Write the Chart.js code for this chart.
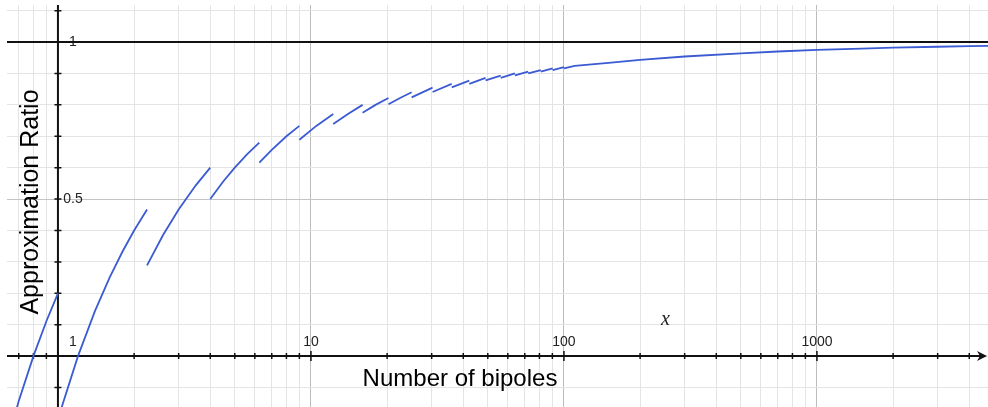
<!DOCTYPE html>
<html>
<head>
<meta charset="utf-8">
<script src="https://cdn.jsdelivr.net/npm/chart.js@4.4.1/dist/chart.umd.min.js"></script>
<style>
  html, body { margin: 0; padding: 0; background: #ffffff; }
  #wrap { width: 988px; height: 407px; }
</style>
</head>
<body>
<div id="wrap"><canvas id="c" width="988" height="407"></canvas></div>
<script>
// ---- data ----
// sawtooth curve: x = number of bipoles, y = approximation ratio (null = break)
const bipoles = [
  0.6, 0.7, 0.8, 0.9, 1, 1,
  1, 1.2, 1.4, 1.6, 1.8, 2, 2.25, 2.25,
  2.25, 2.6, 3, 3.5, 4, 4,
  4, 4.5, 5, 5.6, 6.25, 6.25,
  6.25, 7, 8, 9, 9,
  9, 10.5, 12.25, 12.25,
  12.25, 14, 16, 16,
  16, 18, 20.25, 20.25,
  20.25, 22.5, 25, 25,
  25, 30.25, 30.25,
  30.25, 36, 36,
  36, 42.25, 42.25,
  42.25, 49, 49,
  49, 56.25, 56.25,
  56.25, 64, 64,
  64, 72.25, 72.25,
  72.25, 81, 81,
  81, 90.25, 90.25,
  90.25, 100, 100,
  100, 110.25, 150, 200, 300, 500, 700, 1000, 1500, 2000, 3000, 4000, 4800
];
const ratio = [
  -0.333, -0.143, 0, 0.111, 0.2, null,
  -0.2, 0, 0.143, 0.25, 0.333, 0.4, 0.467, null,
  0.289, 0.385, 0.467, 0.543, 0.6, null,
  0.5, 0.556, 0.6, 0.643, 0.68, null,
  0.616, 0.657, 0.7, 0.733, null,
  0.689, 0.733, 0.771, null,
  0.739, 0.771, 0.8, null,
  0.775, 0.8, 0.822, null,
  0.802, 0.822, 0.84, null,
  0.824, 0.855, null,
  0.841, 0.867, null,
  0.856, 0.877, null,
  0.867, 0.886, null,
  0.878, 0.893, null,
  0.886, 0.9, null,
  0.894, 0.906, null,
  0.9, 0.911, null,
  0.906, 0.916, null,
  0.911, 0.92, null,
  0.916, 0.924, 0.934, 0.943, 0.954, 0.964, 0.97, 0.975, 0.979, 0.982, 0.985, 0.987, 0.988
];
// limit line y = 1
const limitX = [0.629, 4743];
const limitY = [1, 1];
// axis ranges
const xRange = [0.629, 4743];
const yRange = [-0.162, 1.118];
// grid / tick positions
const xGridValues = [0.7, 0.8, 0.9, 1, 2, 3, 4, 5, 6, 7, 8, 9, 10, 20, 30, 40, 50, 60, 70, 80, 90,
  100, 200, 300, 400, 500, 600, 700, 800, 900, 1000, 2000, 3000, 4000];
const xMajorValues = [1, 10, 100, 1000];
const xTickLabels = ['1', '10', '100', '1000'];
const yGridValues = [-0.1, 0, 0.1, 0.2, 0.3, 0.4, 0.5, 0.6, 0.7, 0.8, 0.9, 1, 1.1];
const yTickValues = [0.5, 1];
const yTickLabels = ['0.5', '1'];
const xTitle = 'Number of bipoles';
const yTitle = 'Approximation Ratio';
const xAxisName = 'x';

const near = (a, b) => Math.abs(a - b) < 1e-9;

const axesPlugin = {
  id: 'grapherAxes',
  beforeDatasetsDraw(chart) {
    const { ctx, chartArea: a, scales: { x, y } } = chart;
    const x0 = x.getPixelForValue(1);
    const y0 = y.getPixelForValue(0);
    ctx.save();
    // axis lines
    ctx.strokeStyle = '#111';
    ctx.lineWidth = 2;
    ctx.beginPath();
    ctx.moveTo(a.left, y0);
    ctx.lineTo(a.right - 6, y0);
    ctx.moveTo(x0, a.top);
    ctx.lineTo(x0, a.bottom);
    ctx.stroke();
    // arrow head at the right end of x axis
    ctx.fillStyle = '#111';
    ctx.beginPath();
    ctx.moveTo(a.right - 1, y0);
    ctx.lineTo(a.right - 11, y0 - 5);
    ctx.lineTo(a.right - 8, y0);
    ctx.lineTo(a.right - 11, y0 + 5);
    ctx.closePath();
    ctx.fill();
    // tick marks
    ctx.lineWidth = 1.5;
    ctx.beginPath();
    yGridValues.forEach(v => {
      const py = y.getPixelForValue(v);
      ctx.moveTo(x0 - 3.5, py); ctx.lineTo(x0 + 3.5, py);
    });
    xGridValues.forEach(v => {
      const px = x.getPixelForValue(v);
      const len = xMajorValues.some(m => near(m, v)) ? 5 : 3;
      ctx.moveTo(px, y0 - len); ctx.lineTo(px, y0 + len);
    });
    ctx.stroke();
    // tick labels
    ctx.fillStyle = '#222';
    ctx.font = '14px "Liberation Sans", Arial, sans-serif';
    ctx.textAlign = 'center';
    ctx.textBaseline = 'middle';
    xMajorValues.forEach((v, i) => {
      let px = x.getPixelForValue(v);
      if (near(v, 1)) px += 15;
      ctx.fillText(xTickLabels[i], px, y0 - 14);
    });
    yTickValues.forEach((v, i) => {
      ctx.fillText(yTickLabels[i], x0 + 15, y.getPixelForValue(v) + 0.5);
    });
    // axis name "x"
    ctx.font = 'italic 20px "Liberation Serif", "Times New Roman", serif';
    ctx.fillStyle = '#222';
    ctx.fillText(xAxisName, x.getPixelForValue(252), y0 - 36);
    // titles
    ctx.fillStyle = '#000';
    ctx.font = '24px "Liberation Sans", Arial, sans-serif';
    ctx.fillText(xTitle, 460, 379);
    ctx.font = '25px "Liberation Sans", Arial, sans-serif';
    ctx.translate(31, 202);
    ctx.rotate(-Math.PI / 2);
    ctx.fillText(yTitle, 0, 0);
    ctx.restore();
  }
};

new Chart(document.getElementById('c'), {
  type: 'line',
  data: {
    datasets: [
      {
        data: bipoles.map((v, i) => ({ x: v, y: ratio[i] })),
        borderColor: '#3b5bd3',
        borderWidth: 1.8,
        pointRadius: 0,
        pointHoverRadius: 0,
        spanGaps: false,
        tension: 0,
        order: 1
      },
      {
        data: limitX.map((v, i) => ({ x: v, y: limitY[i] })),
        borderColor: '#111',
        borderWidth: 2,
        pointRadius: 0,
        pointHoverRadius: 0,
        tension: 0,
        order: 2
      }
    ]
  },
  options: {
    responsive: false,
    devicePixelRatio: 1,
    animation: false,
    events: [],
    layout: { autoPadding: false, padding: { left: 7, top: 5, right: 0, bottom: 0 } },
    plugins: { legend: { display: false }, tooltip: { enabled: false } },
    scales: {
      x: {
        type: 'logarithmic',
        bounds: 'data',
        min: xRange[0], max: xRange[1],
        ticks: { display: false },
        border: { display: false },
        grid: {
          drawTicks: false,
          lineWidth: 1,
          color: c => xMajorValues.some(m => near(m, c.tick.value)) ? '#bdbdbd' : '#e4e4e4'
        },
        afterBuildTicks: s => { s.ticks = xGridValues.map(v => ({ value: v })); },
        afterFit: s => { s.height = 0; s.paddingLeft = 0; s.paddingRight = 0; }
      },
      y: {
        type: 'linear',
        bounds: 'data',
        min: yRange[0], max: yRange[1],
        ticks: { display: false },
        border: { display: false },
        grid: {
          drawTicks: false,
          lineWidth: 1,
          color: c => near(c.tick.value, 0.5) ? '#c4c4c4' : '#e4e4e4'
        },
        afterBuildTicks: s => { s.ticks = yGridValues.map(v => ({ value: v })); },
        afterFit: s => { s.width = 0; s.paddingTop = 0; s.paddingBottom = 0; }
      }
    }
  },
  plugins: [axesPlugin]
});
</script>
</body>
</html>
